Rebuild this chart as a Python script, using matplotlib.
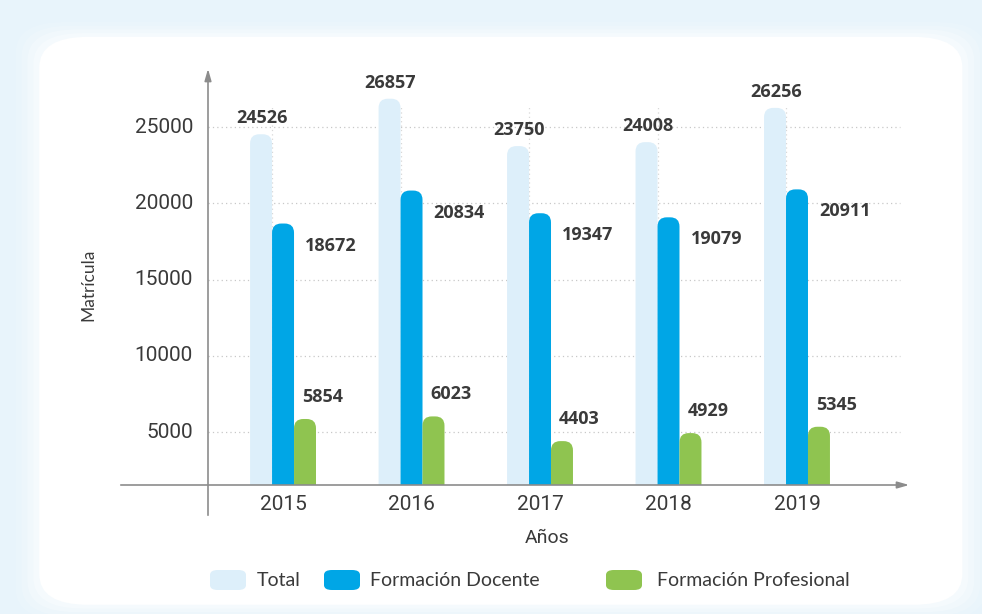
import matplotlib.pyplot as plt
from matplotlib.patches import FancyBboxPatch
import numpy as np

# Data
years = ['2015', '2016', '2017', '2018', '2019']
total = [24526, 26857, 23750, 24008, 26256]
docente = [18672, 20834, 19347, 19079, 20911]
profesional = [5854, 6023, 4403, 4929, 5345]
yticks = [5000, 10000, 15000, 20000, 25000]

c_total = '#ddeffa'
c_doc = '#00a6e6'
c_prof = '#8fc450'
txt = '#3a3a3a'

fig = plt.figure(figsize=(9.82, 6.14), dpi=100)
fig.patch.set_facecolor('#e8f4fb')

# card with soft glow
for i, a in enumerate([0.15, 0.25, 0.4, 0.6]):
    pad = (4 - i) * 0.006
    fig.patches.append(FancyBboxPatch((0.04 - pad, 0.015 - pad), 0.94 + 2 * pad, 0.925 + 2 * pad,
                                      boxstyle='round,pad=0,rounding_size=0.05',
                                      transform=fig.transFigure, facecolor='#f8fcfe',
                                      edgecolor='none', alpha=a, zorder=-2))
fig.patches.append(FancyBboxPatch((0.04, 0.015), 0.94, 0.925,
                                  boxstyle='round,pad=0,rounding_size=0.05',
                                  transform=fig.transFigure, facecolor='white',
                                  edgecolor='none', zorder=-1))

ax = fig.add_axes([208 / 982, 1 - 485 / 614, (912 - 208) / 982, (485 - 70) / 614])
ax.set_zorder(1)
ax.set_facecolor('none')
ax.set_xlim(-0.584, 4.895)
ax.set_ylim(1525, 28740)
for s in ax.spines.values():
    s.set_visible(False)

x = np.arange(len(years))
w = 0.171

# grid
for v in yticks:
    ax.plot([-0.584, 4.8], [v, v], ls=(0, (1, 2.5)), color='#c8c8c8', lw=0.9, zorder=1)
for xi in x:
    ax.plot([xi - w / 2, xi - w / 2], [1525, 26300], ls=(0, (1, 2.5)), color='#d8d8d8', lw=0.9, zorder=1)

# rounded-top bars
px_w = ax.get_position().width * 982 / (4.895 + 0.584)
px_h = ax.get_position().height * 614 / (28740 - 1525)
aspect = px_w / px_h


def rbar(xc, val, color):
    r = w * 0.42
    p = FancyBboxPatch((xc - w / 2, 0), w, val,
                       boxstyle='round,pad=0,rounding_size=%f' % r,
                       mutation_aspect=aspect, facecolor=color, edgecolor='none', zorder=2)
    ax.add_patch(p)


lab = dict(fontsize=13, fontweight='bold', color=txt, family='Open Sans', zorder=3,
           textcoords='offset pixels', va='center')
for i in range(len(years)):
    rbar(x[i] - w, total[i], c_total)
    rbar(x[i], docente[i], c_doc)
    rbar(x[i] + w, profesional[i], c_prof)

    ax.annotate(str(total[i]), (x[i] - w, total[i]), xytext=(1, 16), ha='center', **lab)
    ax.annotate(str(docente[i]), (x[i] + w / 2, docente[i]), xytext=(11, -22), ha='left', **lab)
    ax.annotate(str(profesional[i]), (x[i] + w / 2, profesional[i]), xytext=(8, 22), ha='left', **lab)

# axes with arrows
ax.set_xticks([])
ax.set_yticks([])
for v in yticks:
    ax.annotate(str(v), (0, v), xycoords=ax.get_yaxis_transform(), xytext=(-15, 0),
                textcoords='offset pixels', ha='right', va='center',
                fontsize=15, color=txt, family='Roboto')
for i, y in enumerate(years):
    ax.annotate(y, (x[i], 0), xycoords=ax.get_xaxis_transform(), xytext=(0, -20),
                textcoords='offset pixels', ha='center', va='center',
                fontsize=15, color=txt, family='Roboto')

ax.annotate('', xy=(912 / 982, 1 - 485 / 614), xytext=(118 / 982, 1 - 485 / 614),
            xycoords='figure fraction',
            arrowprops=dict(arrowstyle='-|>,head_length=0.7,head_width=0.2', color='#8c8c8c', lw=1.2))
ax.annotate('', xy=(208 / 982, 1 - 66 / 614), xytext=(208 / 982, 1 - 518 / 614),
            xycoords='figure fraction',
            arrowprops=dict(arrowstyle='-|>,head_length=0.7,head_width=0.2', color='#8c8c8c', lw=1.2))

fig.text(88 / 982, 1 - 285 / 614, 'Matrícula', rotation=90, ha='center', va='center',
         fontsize=12.5, color=txt, family='Lato')
fig.text(547 / 982, 1 - 538 / 614, 'Años', ha='center', va='center',
         fontsize=14, color=txt, family='Roboto')

# legend
leg = [('Total', c_total, 210, 257), ('Formación Docente', c_doc, 324, 370),
       ('Formación Profesional', c_prof, 606, 657)]
for name, col, px0, tx0 in leg:
    fig.patches.append(FancyBboxPatch((px0 / 982, 1 - 590 / 614), 36 / 982, 20 / 614,
                                      boxstyle='round,pad=0,rounding_size=0.008',
                                      transform=fig.transFigure, facecolor=col,
                                      edgecolor='none', zorder=2))
    fig.text(tx0 / 982, 1 - 580 / 614, name, ha='left', va='center', fontsize=14,
             color=txt, family='Lato')

fig.savefig('out.png', dpi=100, facecolor=fig.get_facecolor())
